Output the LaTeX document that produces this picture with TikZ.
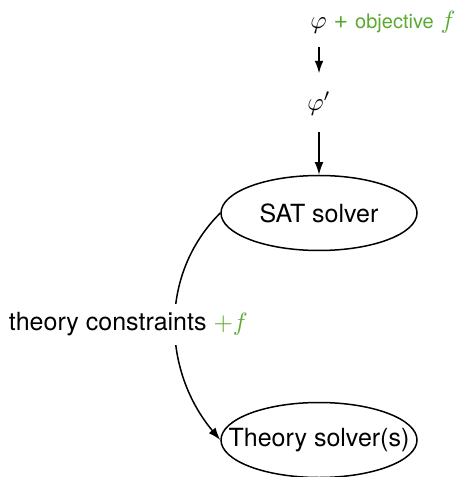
\documentclass[tikz,border=0pt]{standalone}
\usepackage{fontspec}
\setmainfont{TeX Gyre Heros}
\usetikzlibrary{shapes.geometric,arrows.meta}
\definecolor{objgreen}{RGB}{90,170,50}
\tikzset{
  solver/.style={draw, ellipse, semithick, minimum width=78.4pt, minimum height=30pt, inner sep=0pt},
  flow/.style={semithick, -{Latex[length=5pt,width=3.5pt]}},
}
\begin{document}
\begin{tikzpicture}[x=0.4pt, y=-0.4pt, every node/.style={font=\normalsize}]
    \useasboundingbox (0,0) rectangle (460,477);

    % --- ФОРМУЛЫ ---
    \node (input) at (383,22) {$\varphi$ \textcolor{objgreen}{+ {\footnotesize objective} $f$}};
    \node (prime) at (319,104) {$\varphi'$};

    % --- РЕШАТЕЛИ ---
    \node[solver] (sat) at (319,213) {\makebox[0pt]{SAT solver}};
    \node[solver] (theory) at (319,440) {\makebox[0pt]{Theory solver(s)}};

    % --- СТРЕЛКИ ---
    \draw[flow, shorten <=2pt, shorten >=4pt] (input.south -| sat.north) -- (prime.north -| sat.north);
    \draw[flow, shorten <=3pt] (prime.south -| sat.north) -- (sat.north);
    % Дуга к решателю теорий
    \draw[flow] (sat.west) to[out=225, in=130]
        node[fill=white, xshift=-18.8pt] {theory constraints \textcolor{objgreen}{$+f$}} (theory.west);
\end{tikzpicture}
\end{document}
